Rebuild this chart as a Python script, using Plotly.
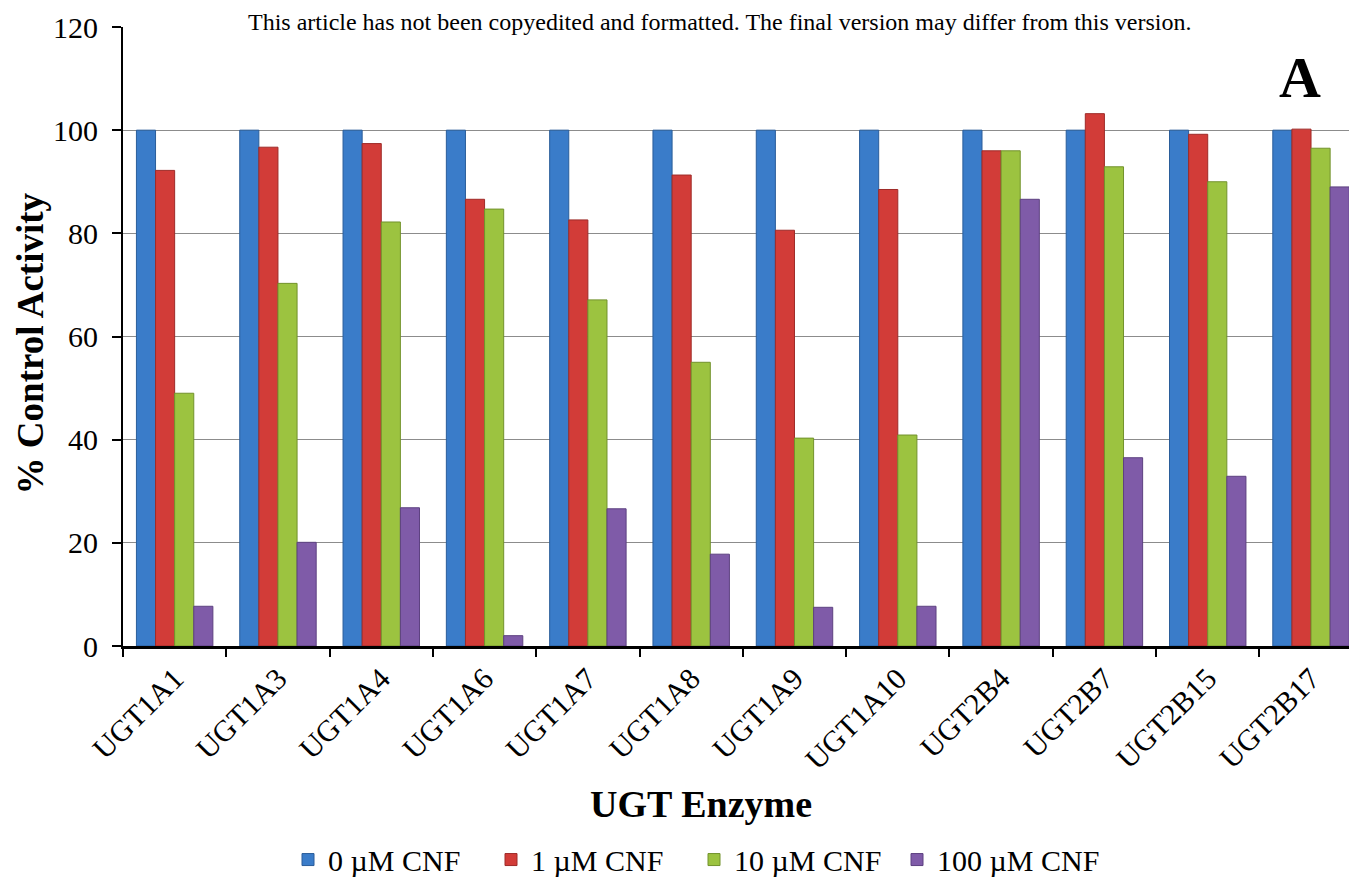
import plotly.graph_objects as go

enzymes = ["UGT1A1", "UGT1A3", "UGT1A4", "UGT1A6", "UGT1A7", "UGT1A8",
           "UGT1A9", "UGT1A10", "UGT2B4", "UGT2B7", "UGT2B15", "UGT2B17"]
cnf_0 = [100, 100, 100, 100, 100, 100, 100, 100, 100, 100, 100, 100]
cnf_1 = [92.2, 96.7, 97.4, 86.6, 82.6, 91.3, 80.6, 88.5, 96.0, 103.2, 99.2, 100.2]
cnf_10 = [49.0, 70.3, 82.2, 84.7, 67.1, 55.0, 40.3, 40.9, 96.0, 92.9, 90.0, 96.5]
cnf_100 = [7.7, 20.1, 26.8, 2.0, 26.6, 17.8, 7.5, 7.7, 86.6, 36.5, 32.9, 89.0]
series_names = ["0 µM CNF", "1 µM CNF", "10 µM CNF", "100 µM CNF"]
y_ticks = [0, 20, 40, 60, 80, 100, 120]

colors = ["#3a7cc9", "#d23c38", "#9cc340", "#7f5ba8"]
edges = ["#2a5d9a", "#9e2b28", "#72922c", "#5d4180"]

FONT = "Liberation Serif, Times New Roman, serif"

# page body has an 8px margin; figure is sized/offset to compensate
fig = go.Figure()
for name, vals, c, e in zip(series_names, [cnf_0, cnf_1, cnf_10, cnf_100], colors, edges):
    fig.add_trace(go.Bar(x=enzymes, y=vals, name=name,
                         marker=dict(color=c, line=dict(color=e, width=1))))

fig.update_layout(
    width=1349, height=878,
    paper_bgcolor="white", plot_bgcolor="white",
    margin=dict(l=115, r=0, t=19, b=231),
    barmode="group", bargap=0.26, bargroupgap=0,
    font=dict(family=FONT, color="black"),
    legend=dict(orientation="h", x=(288 - 123) / 1234, xanchor="left", y=-0.303, yanchor="top",
                font=dict(size=30, family=FONT), itemwidth=30, traceorder="normal",
                entrywidth=158, entrywidthmode="pixels"),
    xaxis=dict(
        range=[-0.5, 11.445], automargin=False,
        tickangle=-45, tickfont=dict(size=30, family=FONT),
        ticks="outside", tickson="boundaries", ticklen=8, tickwidth=2, tickcolor="black",
        showline=True, linecolor="black", linewidth=3,
    ),
    yaxis=dict(
        range=[0, 120], tickvals=y_ticks, automargin=False,
        tickfont=dict(size=30, family=FONT), ticklabelstandoff=8,
        ticks="outside", ticklen=9, tickwidth=2, tickcolor="black",
        showline=True, linecolor="black", linewidth=2,
        showgrid=True, gridcolor="#8c8c8c", gridwidth=1,
        zeroline=False,
    ),
)

# axis titles
fig.add_annotation(text="<b>UGT Enzyme</b>", xref="paper", yref="paper",
                   x=(701 - 123) / 1234, y=-(815 - 655) / 628,
                   xanchor="center", yanchor="middle", showarrow=False,
                   font=dict(size=38, family=FONT))
fig.add_annotation(text="<b>% Control Activity</b>", xref="paper", yref="paper",
                   x=-(123 - 30) / 1234, y=(655 - 348) / 628, textangle=-90,
                   xanchor="center", yanchor="middle", showarrow=False,
                   font=dict(size=37, family=FONT))

fig.add_annotation(text="This article has not been copyedited and formatted. The final version may differ from this version.",
                   xref="paper", yref="paper", x=(720 - 123) / 1234, y=(655 - 8) / 628,
                   yanchor="top", xanchor="center", borderpad=0,
                   showarrow=False, font=dict(size=24, family=FONT))
fig.add_annotation(text="<b>A</b>", xref="paper", yref="paper",
                   x=(1300 - 123) / 1234, y=(655 - 78) / 628,
                   xanchor="center", yanchor="middle", showarrow=False,
                   font=dict(size=58, family=FONT))

fig.write_html("out.html")
